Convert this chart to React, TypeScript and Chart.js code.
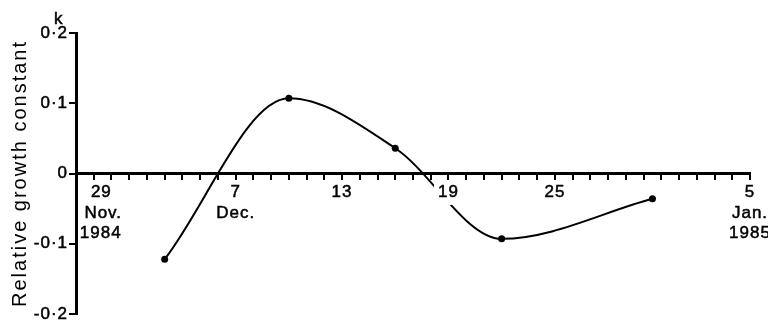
import { useEffect, useRef } from "react";
import { Chart, registerables } from "chart.js";

Chart.register(...registerables);

// Day index counted from 29 Nov. 1984 (= 0)
const sampleDays = [4, 11, 17, 23, 31.5];
const growthConstant = [-0.122, 0.107, 0.036, -0.093, -0.036];

const labelDays = [0, 8, 14, 20, 26, 37];
const dayLabels: string[][] = [
  ["\u2002 29", "\u2002\u2002Nov.", "\u2002\u20091984"],
  ["7", "Dec."],
  ["13"],
  ["19"],
  ["25"],
  ["5", "Jan.", "1985"],
];

const yTickValues = [-0.2, -0.1, 0, 0.1, 0.2];
const yTickLabels: (string | string[])[] = ["-0·2", "-0·1", "0", "0·1", ["k\u2009", "0·2", ""]];

const yTitle = "Relative growth constant";

export default function App() {
  const ref = useRef<HTMLCanvasElement>(null);

  useEffect(() => {
    const canvas = ref.current;
    if (!canvas) return;
    const family = "'Liberation Sans', Arial, Helvetica, sans-serif";

    const spacingPlugin = {
      id: "spacing",
      beforeUpdate(c: any) {
        c.ctx.letterSpacing = "1px";
      },
      beforeDraw(c: any) {
        c.ctx.letterSpacing = "1px";
        const y: any = c.scales.y;
        if (y && !y.__patched) {
          const orig = y.drawTitle.bind(y);
          y.drawTitle = (...args: any[]) => {
            const ctx: any = y.ctx;
            const prev = ctx.letterSpacing;
            ctx.letterSpacing = "2px";
            orig(...args);
            ctx.letterSpacing = prev;
          };
          y.__patched = true;
        }
      },
    };

    const chart = new Chart(canvas, {
      type: "line",
      data: {
        datasets: [
          {
            data: sampleDays.map((d, i) => ({ x: d, y: growthConstant[i] })),
            borderColor: "#000",
            backgroundColor: "#000",
            borderWidth: 2,
            pointRadius: 3.5,
            pointBackgroundColor: "#000",
            pointBorderWidth: 0,
            cubicInterpolationMode: "monotone",
            fill: false,
            clip: false as any,
          },
        ],
      },
      options: {
        animation: false,
        responsive: false,
        maintainAspectRatio: false,
        layout: { padding: { left: 0, right: 26, top: 25, bottom: 6 } },
        plugins: {
          legend: { display: false },
          tooltip: { enabled: false },
          title: { display: false },
        },
        scales: {
          x: {
            type: "linear",
            min: -1,
            max: 37,
            position: { y: 0 } as any,
            grid: {
              drawOnChartArea: false,
              drawTicks: true,
              tickLength: 5,
              lineWidth: 2,
              color: "#000",
            },
            border: { display: true, width: 3, color: "#000" },
            ticks: {
              stepSize: 1,
              autoSkip: false,
              maxRotation: 0,
              minRotation: 0,
              padding: 4,
              color: "#000",
              textStrokeColor: "#000",
              textStrokeWidth: 0.5,
              z: 1,
              font: { family, size: 17, lineHeight: 1.2 },
              callback: (v: any) => {
                const idx = labelDays.indexOf(Math.round(Number(v)));
                return idx >= 0 ? dayLabels[idx] : "";
              },
              showLabelBackdrop: ((ctx: any) => ctx.tick && ctx.tick.value === 20) as any,
              backdropColor: "#fff",
              backdropPadding: { top: 2, bottom: 2, left: 4, right: 2 } as any,
            },
            afterFit: (s: any) => {
              s.paddingLeft = 0;
              s.paddingRight = 0;
            },
          },
          y: {
            type: "linear",
            min: -0.2,
            max: 0.2,
            position: "left",
            grid: {
              drawOnChartArea: false,
              drawTicks: true,
              tickLength: 7,
              lineWidth: 2,
              color: "#000",
            },
            border: { display: true, width: 3, color: "#000" },
            ticks: {
              stepSize: 0.1,
              padding: 1,
              color: "#000",
              textStrokeColor: "#000",
              textStrokeWidth: 0.5,
              font: { family, size: 17, lineHeight: 0.8 },
              callback: (v: any) => {
                const idx = yTickValues.findIndex((t) => Math.abs(t - Number(v)) < 1e-6);
                return idx >= 0 ? yTickLabels[idx] : "";
              },
            },
            title: {
              display: true,
              text: yTitle,
              color: "#000",
              font: { family, size: 20 },
              padding: 0,
            },
            afterFit: (s: any) => {
              s.width = 68;
              s.paddingTop = 0;
              s.paddingBottom = 0;
            },
          },
        },
      },
      plugins: [spacingPlugin],
    } as any);

    return () => chart.destroy();
  }, []);

  return (
    <div style={{ width: 768, height: 312 }}>
      <canvas ref={ref} width={768} height={312} style={{ display: "block", width: 768, height: 312 }} />
    </div>
  );
}
